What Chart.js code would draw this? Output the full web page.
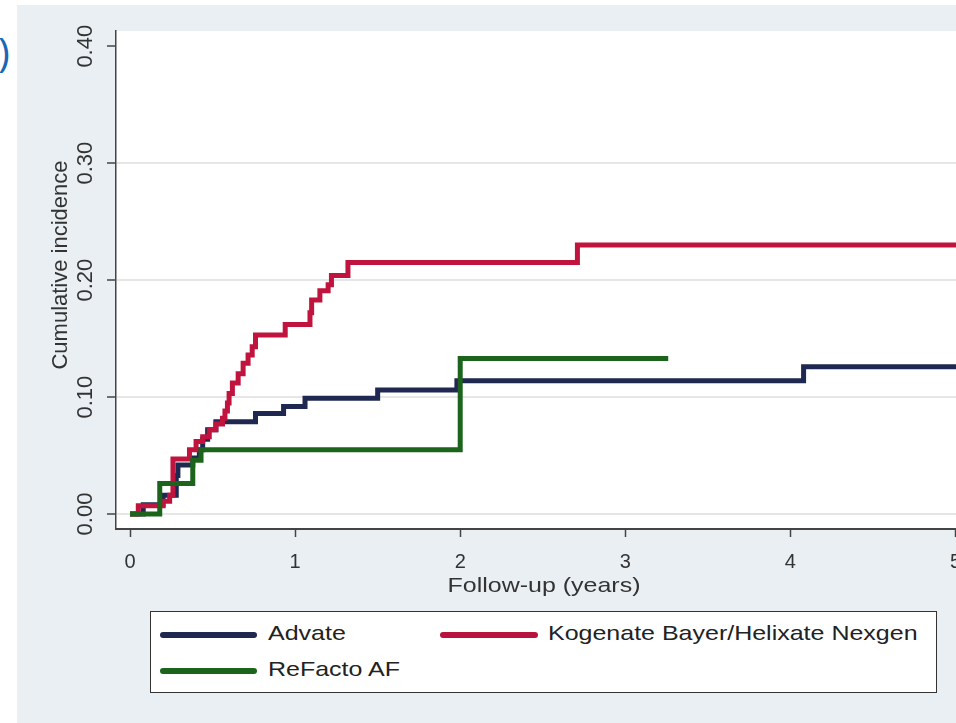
<!DOCTYPE html>
<html lang="en">
<head>
  <meta charset="UTF-8" />
  <title>Cumulative incidence by product</title>
  <style>
    body {
      margin: 0;
      width: 956px;
      height: 723px;
      overflow: hidden;
      background: #ffffff;
      position: relative;
      font-family: 'Liberation Sans', Arial, sans-serif;
    }
    #bg {
      position: absolute;
      left: 17px; top: 5px; right: 0; bottom: 0;
      background: #e9eff3;
    }
    #paren {
      position: absolute;
      left: -2px; top: 24px;
      font-family: 'Open Sans', sans-serif;
      font-size: 40px;
      color: #1d66b6;
    }
    #chart {
      position: absolute;
      left: 0; top: 0;
    }
    .legend {
      position: absolute;
      left: 150px; top: 611px;
      width: 785px; height: 80px;
      background: #fff;
      border: 1.5px solid #333;
    }
    .legend .line {
      position: absolute;
      height: 6px;
      border-radius: 3px;
    }
    .legend .txt {
      position: absolute;
      font-size: 21px;
      color: #222;
      white-space: nowrap;
      transform: scaleX(1.19);
      transform-origin: left center;
    }
  </style>
</head>
<body>
  <div id="bg"></div>
  <div id="paren">)</div>
  <canvas id="chart" width="1005" height="723"></canvas>

  <div class="legend">
    <div class="line" style="left:9px; top:20px; width:97px; background:#1f2850;"></div>
    <div class="txt" style="left:117px; top:9px;">Advate</div>
    <div class="line" style="left:289px; top:20px; width:98px; background:#b8123f;"></div>
    <div class="txt" style="left:397px; top:9px;">Kogenate Bayer/Helixate Nexgen</div>
    <div class="line" style="left:9px; top:56px; width:97px; background:#1c641c;"></div>
    <div class="txt" style="left:117px; top:45px;">ReFacto AF</div>
  </div>

  <script src="https://cdn.jsdelivr.net/npm/chart.js"></script>
  <script>
    // step data (time in years, cumulative incidence)
    const advateTime = [0, 0.08, 0.20, 0.28, 0.29, 0.38, 0.42, 0.44, 0.47, 0.52, 0.76, 0.93, 1.06, 1.50, 1.98, 4.08, 5.30];
    const advateInc  = [0, 0.008, 0.016, 0.033, 0.042, 0.048, 0.055, 0.064, 0.072, 0.079, 0.086, 0.092, 0.099, 0.106, 0.114, 0.126, 0.126];

    const kogenateTime = [0, 0.05, 0.20, 0.24, 0.26, 0.36, 0.40, 0.44, 0.48, 0.52, 0.56, 0.575, 0.59, 0.60, 0.62, 0.655, 0.685, 0.715, 0.74, 0.76, 0.94, 1.09, 1.10, 1.15, 1.20, 1.22, 1.32, 2.71, 5.30];
    const kogenateInc  = [0, 0.007, 0.011, 0.016, 0.047, 0.055, 0.062, 0.066, 0.072, 0.077, 0.082, 0.088, 0.095, 0.103, 0.112, 0.120, 0.129, 0.136, 0.143, 0.153, 0.162, 0.172, 0.183, 0.191, 0.196, 0.204, 0.215, 0.230, 0.230];

    const refactoTime = [0, 0.18, 0.38, 0.43, 2.00, 3.26];
    const refactoInc  = [0, 0.026, 0.046, 0.055, 0.133, 0.133];

    const xTicks = [0, 1, 2, 3, 4, 5];
    const xTickLabels = ['0', '1', '2', '3', '4', '5'];
    const yTicks = [0, 0.1, 0.2, 0.3, 0.4];
    const yTickLabels = ['0.00', '0.10', '0.20', '0.30', '0.40'];

    const FONT = "'Liberation Sans', Arial, sans-serif";
    const toPoints = (t, v) => t.map((x, i) => ({ x: x, y: v[i] }));

    // white plot region
    const plotBg = {
      id: 'plotBg',
      beforeDraw(chart) {
        const a = chart.chartArea;
        chart.ctx.save();
        chart.ctx.fillStyle = '#ffffff';
        chart.ctx.fillRect(a.left, a.top, a.right - a.left, a.bottom - a.top);
        chart.ctx.restore();
      }
    };

    // rotated y labels and the axis titles, Stata style
    const axisText = {
      id: 'axisText',
      afterDraw(chart) {
        const ctx = chart.ctx;
        const ys = chart.scales.y;
        ctx.save();
        ctx.fillStyle = '#333';
        ctx.font = '22px ' + FONT;
        ctx.textAlign = 'center';
        ctx.textBaseline = 'alphabetic';
        yTicks.forEach((v, i) => {
          ctx.save();
          ctx.translate(92, ys.getPixelForValue(v));
          ctx.rotate(-Math.PI / 2);
          ctx.fillText(yTickLabels[i], 0, 0);
          ctx.restore();
        });
        ctx.save();
        ctx.translate(67, 265);
        ctx.rotate(-Math.PI / 2);
        ctx.fillText('Cumulative incidence', 0, 0);
        ctx.restore();

        ctx.save();
        ctx.font = '21px ' + FONT;
        ctx.translate(544, 592);
        ctx.scale(1.19, 1);
        ctx.fillText('Follow-up (years)', 0, 0);
        ctx.restore();
        ctx.restore();
      }
    };

    const common = {
      pointRadius: 0,
      borderWidth: 5,
      stepped: true,
      fill: false,
      borderJoinStyle: 'miter',
      borderCapStyle: 'butt'
    };

    new Chart(document.getElementById('chart'), {
      type: 'line',
      data: {
        datasets: [
          Object.assign({ label: 'Advate', data: toPoints(advateTime, advateInc), borderColor: '#1f2850', order: 3 }, common),
          Object.assign({ label: 'Kogenate Bayer/Helixate Nexgen', data: toPoints(kogenateTime, kogenateInc), borderColor: '#c0143f', order: 2 }, common),
          Object.assign({ label: 'ReFacto AF', data: toPoints(refactoTime, refactoInc), borderColor: '#1c641c', order: 1 }, common)
        ]
      },
      options: {
        responsive: false,
        animation: false,
        layout: { padding: { top: 31, left: 0, right: 0, bottom: 0 } },
        plugins: { legend: { display: false }, tooltip: { enabled: false } },
        scales: {
          x: {
            type: 'linear',
            min: -0.085,
            max: 5.3,
            afterFit: s => { s.height = 194; },
            afterBuildTicks: s => { s.ticks = xTicks.map(v => ({ value: v })); },
            ticks: {
              includeBounds: false,
              padding: 13,
              color: '#333',
              font: { family: FONT, size: 20 },
              callback: (v) => xTickLabels[xTicks.indexOf(v)]
            },
            grid: {
              drawOnChartArea: false,
              tickLength: 8,
              tickColor: '#444',
              tickWidth: 1.5
            },
            border: { color: '#444', width: 2 }
          },
          y: {
            min: -0.0128,
            max: 0.413,
            afterFit: s => { s.width = 116; },
            afterBuildTicks: s => { s.ticks = yTicks.map(v => ({ value: v })); },
            ticks: { display: false, includeBounds: false },
            grid: {
              color: c => (c.tick && c.tick.value > 0.35) ? 'rgba(0,0,0,0)' : '#e6e6e6',
              lineWidth: 2,
              tickLength: 9,
              tickColor: '#444',
              tickWidth: 1.5
            },
            border: { color: '#444', width: 1.5 }
          }
        }
      },
      plugins: [plotBg, axisText]
    });
  </script>
</body>
</html>
